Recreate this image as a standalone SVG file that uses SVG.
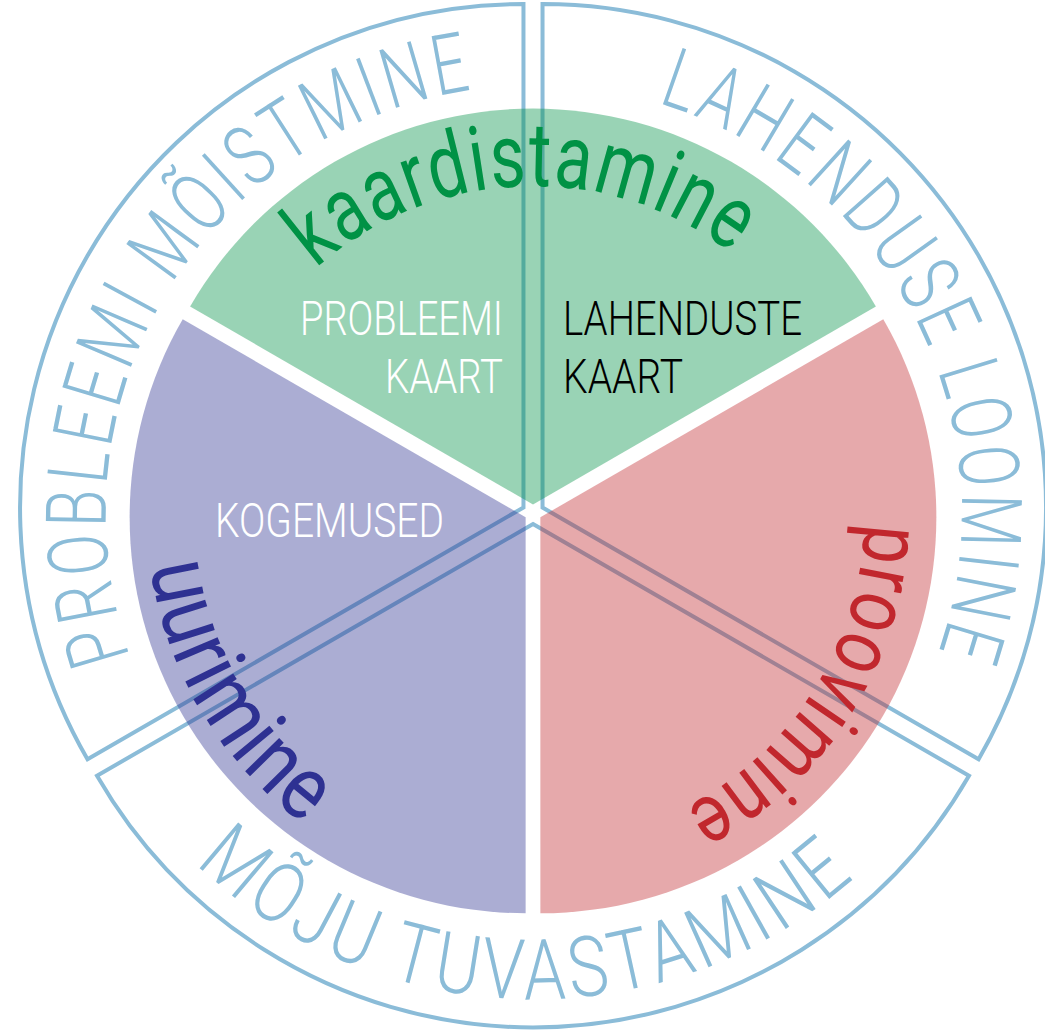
<svg xmlns="http://www.w3.org/2000/svg" width="1045" height="1035" viewBox="0 0 1045 1035">
<defs>
<style>
.ring{fill:none;stroke:#8bbcd8;stroke-width:4;stroke-linejoin:miter}
.sec{fill-opacity:0.4;stroke:none}
.ringtxt{font-family:Roboto,"Liberation Sans",sans-serif;font-weight:300;font-size:84px;letter-spacing:6px;fill:#8bbcd8}
.big{font-family:Roboto,"Liberation Sans",sans-serif;font-weight:400;font-size:90px;letter-spacing:2px}
.inner{font-family:Roboto,"Liberation Sans",sans-serif;font-weight:300;font-size:49px}
</style>
<path id="pProb" d="M 297.7 870.5 A 428 428 0 0 1 742.8 140.0"/>
<path id="pLah" d="M 353.2 124.6 A 428 428 0 0 1 739.6 887.9"/>
<path id="pMoju" d="M 46.1 521.5 A 487 487 0 0 0 1019.3 538.5"/>
<path id="pKaar" d="M 206 513 A 327 327 0 0 1 859.2 490.2"/>
<path id="pUur" d="M 323.3 188.9 A 386 386 0 0 0 719.6 850.9"/>
<path id="pProov" d="M 720 239.9 A 331 331 0 0 1 365.4 798.5"/>
</defs>
<rect width="1045" height="1035" fill="#ffffff"/>

<g id="ring-probleemi-moistmine">
<path class="ring" d="M 523.47 507.5 L 87.5 759.25 A 503.5 503.5 0 0 1 523.47 4 Z"/>
<text class="ringtxt"><textPath href="#pProb" startOffset="50%" text-anchor="middle" textLength="760" lengthAdjust="spacingAndGlyphs">PROBLEEMI MÕISTMINE</textPath></text>
</g>
<g id="ring-lahenduse-loomine">
<path class="ring" d="M 542.53 507.5 L 542.53 4 A 503.5 503.5 0 0 1 978.6 759.25 Z"/>
<text class="ringtxt"><textPath href="#pLah" startOffset="50%" text-anchor="middle" textLength="692" lengthAdjust="spacingAndGlyphs">LAHENDUSE LOOMINE</textPath></text>
</g>
<g id="ring-moju-tuvastamine">
<path class="ring" d="M 533 524 L 969 775.75 A 503.5 503.5 0 0 1 97 775.75 Z"/>
<text class="ringtxt"><textPath href="#pMoju" startOffset="50%" text-anchor="middle" textLength="728" lengthAdjust="spacingAndGlyphs">MÕJU TUVASTAMINE</textPath></text>
</g>

<g id="sector-kaardistamine">
<path class="sec" fill="#009245" d="M 533 504.5 L 190.1 306.5 A 396 396 0 0 1 875.9 306.5 Z"/>
<text class="big" fill="#009245"><textPath href="#pKaar" startOffset="50%" text-anchor="middle" textLength="452" lengthAdjust="spacingAndGlyphs">kaardistamine</textPath></text>
<text class="inner" fill="#ffffff" x="503" y="335" text-anchor="end" textLength="203" lengthAdjust="spacingAndGlyphs">PROBLEEMI</text>
<text class="inner" fill="#ffffff" x="503" y="393" text-anchor="end" textLength="118" lengthAdjust="spacingAndGlyphs">KAART</text>
<text class="inner" fill="#000000" x="563" y="335" textLength="239" lengthAdjust="spacingAndGlyphs">LAHENDUSTE</text>
<text class="inner" fill="#000000" x="563" y="393" textLength="120" lengthAdjust="spacingAndGlyphs">KAART</text>
</g>

<g id="sector-uurimine">
<path class="sec" fill="#2e3192" d="M 525.64 517.25 L 525.64 913.25 A 396 396 0 0 1 182.7 319.25 Z"/>
<text class="big" fill="#2e3192"><textPath href="#pUur" startOffset="50%" text-anchor="middle" textLength="310" lengthAdjust="spacingAndGlyphs">uurimine</textPath></text>
<text class="inner" fill="#ffffff" x="215" y="537" textLength="229" lengthAdjust="spacingAndGlyphs">KOGEMUSED</text>
</g>

<g id="sector-proovimine">
<path class="sec" fill="#c1272d" d="M 540.36 517.25 L 883.3 319.25 A 396 396 0 0 1 540.36 913.25 Z"/>
<text class="big" fill="#c1272d" style="font-size:84px"><textPath href="#pProov" startOffset="50%" text-anchor="middle" textLength="354" lengthAdjust="spacingAndGlyphs">proovimine</textPath></text>
</g>
</svg>
